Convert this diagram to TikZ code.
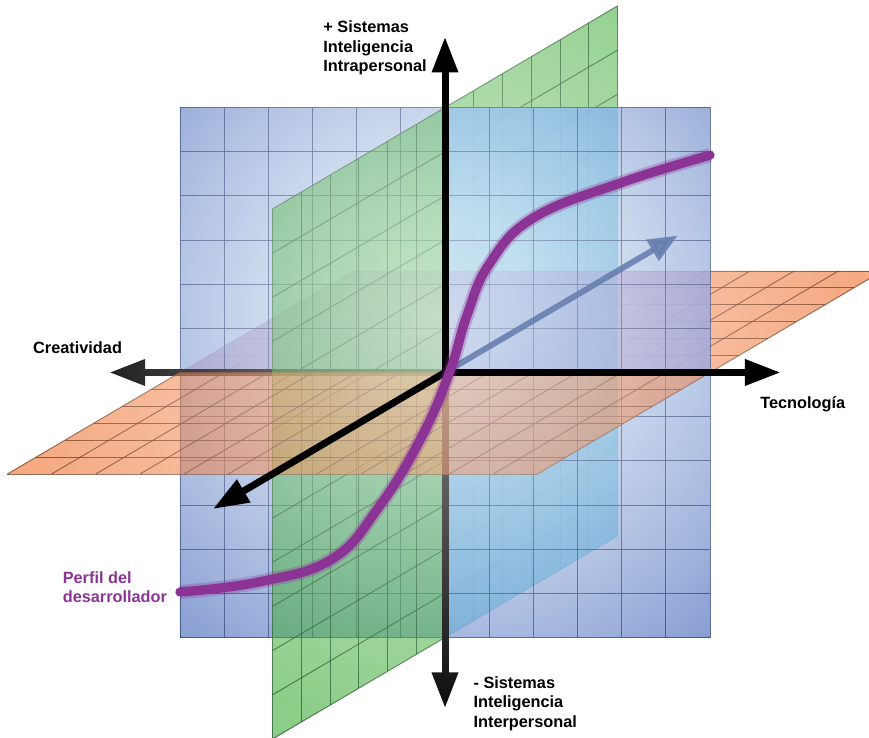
\documentclass[tikz,border=0pt]{standalone}
\usepackage{fontspec}
\setmainfont{Liberation Sans}
\usetikzlibrary{arrows.meta,fadings}

\definecolor{planeblue}{RGB}{116,142,204}
\definecolor{glowblue}{RGB}{196,218,238}
\definecolor{planegreen}{RGB}{46,164,37}
\definecolor{planeorange}{RGB}{237,100,28}
\definecolor{seeblue}{RGB}{50,160,235}
\definecolor{seeviolet}{RGB}{120,90,200}
\definecolor{gridblue}{RGB}{40,60,115}
\definecolor{gridgreen}{RGB}{30,85,40}
\definecolor{gridorange}{RGB}{110,60,35}
\definecolor{depthblue}{RGB}{104,128,176}
\definecolor{profile}{RGB}{140,52,150}

\pgfdeclareradialshading{planeglow}{\pgfpoint{2bp}{10bp}}{color(0bp)=(glowblue); color(6bp)=(glowblue); color(36bp)=(planeblue); color(50bp)=(planeblue)}
\tikzfading[name=glowfade, inner color=transparent!40, outer color=transparent!100]

\begin{document}
\begin{tikzpicture}[
    x=1cm, y=1cm, z={(0.651cm,0.383cm)},
    font=\bfseries\fontsize{10.5}{12.6}\selectfont,
    >={Triangle[length=23pt,width=16pt]},
    plane/.style={fill opacity=0.55},
    gridline/.style={line width=0.6pt, opacity=0.75},
    axis/.style={->, line width=4.5pt},
    axislabel/.style={align=left, anchor=base west, inner sep=0pt}
]

    \useasboundingbox (-10.075,-8.275) rectangle (9.599,8.433);

    \coordinate (O) at (0,0,0);
    \coordinate (creat) at (-7.6,0,0);
    \coordinate (tecno) at (7.6,0,0);
    \coordinate (intra) at (0,7.6,0);
    \coordinate (inter) at (0,-7.6,0);
    \coordinate (front) at (0,0,-8.07);
    \coordinate (back) at (0,0,8.1);

    % Green plane (back half)
    \fill[planegreen, plane] (0,-6,0) -- (0,6,0) -- (0,6,6) -- (0,-6,6) -- cycle;
    \foreach \k in {1,...,6}
        \draw[gridgreen, gridline] (0,-6,\k) -- (0,6,\k);
    \foreach \j in {-6,...,6}
        \draw[gridgreen, gridline] (0,\j,0) -- (0,\j,6);

    % Orange plane (back half)
    \fill[planeorange, plane] (-6,0,0) -- (6,0,0) -- (6,0,6) -- (-6,0,6) -- cycle;
    \foreach \i in {-6,...,6}
        \draw[gridorange, gridline] (\i,0,0) -- (\i,0,6);
    \foreach \k in {1,...,6}
        \draw[gridorange, gridline] (-6,0,\k) -- (6,0,\k);

    % Blue plane
    \shade[shading=planeglow, fill opacity=0.85] (-6,-6) rectangle (6,6);
    \begin{scope}
        \clip (-6,-6) rectangle (6,6);
        \fill[seeblue, fill opacity=0.35] (0,-6,0) -- (0,6,0) -- (0,6,6) -- (0,-6,6) -- cycle;
        \fill[seeviolet, fill opacity=0.25] (-6,0,0) -- (6,0,0) -- (6,0,6) -- (-6,0,6) -- cycle;
    \end{scope}
    \foreach \i in {-6,...,6} {
        \draw[gridblue, gridline] (\i,-6) -- (\i,6);
        \draw[gridblue, gridline] (-6,\i) -- (6,\i);
    }

    \draw[axis] (O) -- (creat);

    % Green plane (front half)
    \fill[planegreen, plane] (0,-6,0) -- (0,6,0) -- (0,6,-6) -- (0,-6,-6) -- cycle;
    \foreach \k in {-6,...,-1}
        \draw[gridgreen, gridline] (0,-6,\k) -- (0,6,\k);
    \foreach \j in {-6,...,6}
        \draw[gridgreen, gridline] (0,\j,0) -- (0,\j,-6);

    \draw[axis] (O) -- (inter);

    % Orange plane (front half)
    \fill[planeorange, plane] (-6,0,0) -- (6,0,0) -- (6,0,-6) -- (-6,0,-6) -- cycle;
    \foreach \i in {-6,...,6}
        \draw[gridorange, gridline] (\i,0,0) -- (\i,0,-6);
    \foreach \k in {-6,...,-1}
        \draw[gridorange, gridline] (-6,0,\k) -- (6,0,\k);

    % Light in the middle
    \fill[white, path fading=glowfade] (-0.2,1.2) circle (9.5);

    % Depth axis (back)
    \draw[->, depthblue, opacity=0.9, line width=3.8pt,
        >={Triangle[length=19pt,width=15pt]}] (O) -- (back);

    \draw[axis] (O) -- (intra);
    \draw[axis] (O) -- (tecno);
    \draw[axis] (O) -- (front);

    % Developer profile
    \draw[profile, line width=6pt, line cap=round,
        preaction={draw=profile, line width=9pt, opacity=0.3}]
        plot[smooth, tension=0.7] coordinates {
        (-6.0,-4.97) (-4.2,-4.74) (-2.55,-4.22) (-1.5,-3.05)
        (-0.55,-1.5) (0.1,0) (0.5,1.3) (1.0,2.45) (2.0,3.5)
        (4.0,4.3) (6.0,4.92)};

    % Labels
    \node (intralabel) [axislabel] at (-2.76,6.81) {+ Sistemas\\Inteligencia\\Intrapersonal};
    \node (interlabel) [axislabel] at (0.64,-8.03) {- Sistemas\\Inteligencia\\Interpersonal};
    \node (creatlabel) [axislabel] at (-9.33,0.44) {Creatividad};
    \node (tecnolabel) [axislabel] at (7.13,-0.81) {Tecnología};
    \node (perfillabel) [axislabel, text=profile] at (-8.66,-5.21) {Perfil del\\desarrollador};

\end{tikzpicture}
\end{document}
